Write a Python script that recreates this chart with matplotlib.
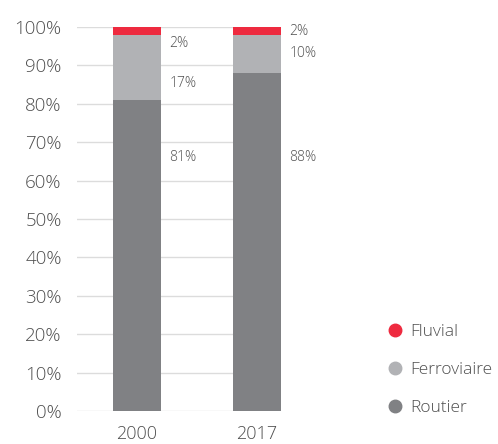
import numpy as np
import matplotlib.pyplot as plt
from matplotlib.lines import Line2D

plt.rcParams['font.family'] = ['Open Sans', 'DejaVu Sans']
plt.rcParams['font.weight'] = 'light'

years = ['2000', '2017']
routier = [81, 88]
ferroviaire = [17, 10]
fluvial = [2, 2]

# where the percentage labels sit (y in data units)
label_y_routier = [66, 66]
label_y_ferro = [85.4, 93.2]
label_y_fluvial = [95.6, 98.7]

c_red = '#ee2a3f'
c_light = '#b1b2b5'
c_dark = '#808184'
c_text = '#4f4f4f'

fig = plt.figure(figsize=(4.98, 4.44), dpi=100)
ax = fig.add_axes([0.1546, 0.0743, 0.4096, 0.8649])

x = np.arange(len(years))
w = 0.4
r = np.array(routier)
f = np.array(ferroviaire)
ax.bar(x, routier, w, color=c_dark, zorder=3)
ax.bar(x, ferroviaire, w, bottom=r, color=c_light, zorder=3)
ax.bar(x, fluvial, w, bottom=r + f, color=c_red, zorder=3)

for i in range(len(years)):
    xt = x[i] + w / 2 + 0.07
    ax.text(xt, label_y_routier[i], f'{routier[i]}%', color=c_text, fontsize=10, va='center')
    ax.text(xt, label_y_ferro[i], f'{ferroviaire[i]}%', color=c_text, fontsize=10, va='center')
    ax.text(xt, label_y_fluvial[i], f'{fluvial[i]}%', color=c_text, fontsize=10, va='center')

ax.set_xlim(-0.5, 1.2)
ax.set_ylim(0, 100)
ax.set_yticks(np.arange(0, 101, 10))
ax.set_yticklabels([f'{v}%' for v in range(0, 101, 10)])
ax.set_xticks(x)
ax.set_xticklabels(years)
ax.tick_params(axis='y', length=0, pad=11, labelsize=13.5, labelcolor=c_text)
ax.tick_params(axis='x', length=0, pad=10, labelsize=13, labelcolor=c_text)
ax.grid(axis='y', color='#dcdcdc', linewidth=1, zorder=0)
for s in ax.spines.values():
    s.set_visible(False)

handles = [Line2D([], [], marker='o', linestyle='none', markersize=9, color=c)
           for c in [c_red, c_light, c_dark]]
fig.legend(handles, ['Fluvial', 'Ferroviaire', 'Routier'], loc='upper left',
           bbox_to_anchor=(0.74, 0.305), frameon=False, fontsize=12.5,
           labelcolor=c_text, handletextpad=0.3, labelspacing=1.25, handlelength=1.2)

fig.savefig('out.png', dpi=100)
